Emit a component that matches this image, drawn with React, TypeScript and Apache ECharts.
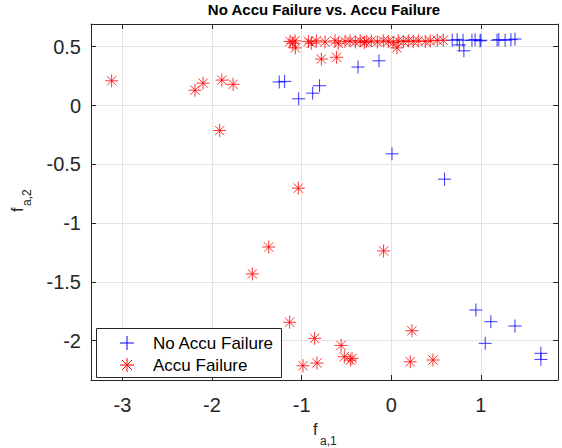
import React, { useEffect, useRef } from "react";
import * as echarts from "echarts";

const titleText = "No Accu Failure vs. Accu Failure";
const seriesNames = ["No Accu Failure", "Accu Failure"];
const xTicks = [-3, -2, -1, 0, 1];
const yTicks = [-2, -1.5, -1, -0.5, 0, 0.5];

const noFailX = [
  0.68, 0.735, 0.76, 0.8, 0.81, 0.9, 0.935, 0.99, 1.0, 1.18, 1.2, 1.27, 1.335, 1.38,
  -1.25, -1.19, -1.033, -0.877, -0.8, -0.371, -0.137, 0.008, 0.594,
  0.944, 1.111, 1.38, 1.048, 1.669, 1.669,
];
const noFailY = [
  0.555, 0.56, 0.515, 0.555, 0.465, 0.555, 0.56, 0.55, 0.555, 0.555, 0.56, 0.555, 0.56, 0.565,
  0.2, 0.205, 0.057, 0.105, 0.168, 0.327, 0.38, -0.411, -0.626,
  -1.739, -1.838, -1.875, -2.022, -2.107, -2.159,
];

const failX = [
  -1.13, -1.1, -1.074, -1.07, -0.925, -0.892, -0.836, -0.78, -0.739, -0.628, -0.61, -0.591,
  -0.516, -0.46, -0.401, -0.346, -0.3, -0.279, -0.223, -0.156, -0.089, -0.033, 0.022, 0.063,
  0.078, 0.134, 0.19, 0.245, 0.301, 0.379, 0.435, 0.513, 0.58,
  -3.12, -2.19, -2.1, -1.89, -1.765, -1.914, -1.037, -1.368, -1.55, -0.086,
  -1.134, -0.855, -0.985, -0.829, -0.56, -0.524, -0.457, -0.438, 0.23, 0.212, 0.465,
];
const failY = [
  0.545, 0.53, 0.55, 0.49, 0.545, 0.53, 0.55, 0.395, 0.54, 0.55, 0.41, 0.53,
  0.545, 0.55, 0.54, 0.55, 0.535, 0.545, 0.55, 0.54, 0.55, 0.545, 0.535, 0.49,
  0.55, 0.545, 0.55, 0.545, 0.55, 0.545, 0.55, 0.555, 0.555,
  0.21, 0.13, 0.19, 0.216, 0.18, -0.213, -0.703, -1.203, -1.432, -1.237,
  -1.843, -1.98, -2.213, -2.19, -2.04, -2.136, -2.165, -2.15, -1.915, -2.179, -2.164,
];

const FONT = "Liberation Sans, Arial, Helvetica, sans-serif";
const AXIS_COLOR = "#262626";
const GRID_COLOR = "#e3e3e3";
const BLUE = "#0000ff";
const RED = "#ff0000";
const PLUS = "path://M5,0L5,10M0,5L10,5";
const STAR = "path://M5,0L5,10M0,5L10,5M1.4,1.4L8.6,8.6M8.6,1.4L1.4,8.6";
const TICK_FS = 20;
const LEGEND_FS = 17;

const zip = (xs: number[], ys: number[]) => xs.map((x, i) => [x, ys[i]]);

export default function App() {
  const ref = useRef<HTMLDivElement>(null);
  useEffect(() => {
    if (!ref.current) return;
    const chart = echarts.init(ref.current, undefined, { renderer: "svg" });
    const axisCommon = {
      type: "value" as const,
      axisLine: { show: true, onZero: false, lineStyle: { color: AXIS_COLOR, width: 1 } },
    };
    const lx = 127;
    const ly1 = 343;
    const ly2 = 365;
    const h = 7;
    const d = 5;
    chart.setOption({
      animation: false,
      backgroundColor: "#ffffff",
      textStyle: { fontFamily: FONT },
      title: {
        text: titleText,
        left: 324,
        top: 2,
        padding: 0,
        textAlign: "center",
        textStyle: { fontSize: 15, fontWeight: "bold", color: "#000", fontFamily: FONT },
      },
      grid: { left: 91, top: 24, right: 4, bottom: 68, containLabel: false },
      xAxis: [
        {
          ...axisCommon,
          position: "bottom",
          min: -3.35,
          max: 1.86,
          axisTick: { show: true, inside: true, length: 5, customValues: xTicks, lineStyle: { color: AXIS_COLOR } },
          axisLabel: { show: true, customValues: xTicks, fontSize: TICK_FS, color: AXIS_COLOR, margin: 15, fontFamily: FONT },
          splitLine: { show: true, lineStyle: { color: GRID_COLOR, width: 1 } },
        },
        {
          ...axisCommon,
          position: "top",
          min: -3.35,
          max: 1.86,
          axisTick: { show: true, inside: true, length: 5, customValues: xTicks, lineStyle: { color: AXIS_COLOR } },
          axisLabel: { show: false },
          splitLine: { show: false },
        },
      ],
      yAxis: [
        {
          ...axisCommon,
          position: "left",
          min: -2.334,
          max: 0.693,
          axisTick: { show: true, inside: true, length: 5, customValues: yTicks, lineStyle: { color: AXIS_COLOR } },
          axisLabel: { show: true, customValues: yTicks, fontSize: TICK_FS, color: AXIS_COLOR, margin: 10, fontFamily: FONT },
          splitLine: { show: true, lineStyle: { color: GRID_COLOR, width: 1 } },
        },
        {
          ...axisCommon,
          position: "right",
          min: -2.334,
          max: 0.693,
          axisTick: { show: true, inside: true, length: 5, customValues: yTicks, lineStyle: { color: AXIS_COLOR } },
          axisLabel: { show: false },
          splitLine: { show: false },
        },
      ],
      series: [
        {
          name: seriesNames[0],
          type: "scatter",
          data: zip(noFailX, noFailY),
          symbol: PLUS,
          symbolSize: 13,
          itemStyle: { color: "none", borderColor: BLUE, borderWidth: 1 },
          z: 2,
        },
        {
          name: seriesNames[1],
          type: "scatter",
          data: zip(failX, failY),
          symbol: STAR,
          symbolSize: 13,
          itemStyle: { color: "none", borderColor: RED, borderWidth: 1 },
          z: 3,
        },
      ],
      graphic: [
        {
          type: "rect",
          z: 100,
          shape: { x: 96.5, y: 328.5, width: 185, height: 49 },
          style: { fill: "#ffffff", stroke: AXIS_COLOR, lineWidth: 1 },
        },
        { type: "line", z: 101, shape: { x1: lx - h, y1: ly1, x2: lx + h, y2: ly1 }, style: { stroke: BLUE, lineWidth: 1 } },
        { type: "line", z: 101, shape: { x1: lx, y1: ly1 - h, x2: lx, y2: ly1 + h }, style: { stroke: BLUE, lineWidth: 1 } },
        { type: "line", z: 101, shape: { x1: lx - h, y1: ly2, x2: lx + h, y2: ly2 }, style: { stroke: RED, lineWidth: 1 } },
        { type: "line", z: 101, shape: { x1: lx, y1: ly2 - h, x2: lx, y2: ly2 + h }, style: { stroke: RED, lineWidth: 1 } },
        { type: "line", z: 101, shape: { x1: lx - d, y1: ly2 - d, x2: lx + d, y2: ly2 + d }, style: { stroke: RED, lineWidth: 1 } },
        { type: "line", z: 101, shape: { x1: lx + d, y1: ly2 - d, x2: lx - d, y2: ly2 + d }, style: { stroke: RED, lineWidth: 1 } },
        {
          type: "text", z: 101, x: 153, y: ly1,
          style: { text: seriesNames[0], fill: "#000", font: `${LEGEND_FS}px ${FONT}`, verticalAlign: "middle" },
        },
        {
          type: "text", z: 101, x: 153, y: ly2,
          style: { text: seriesNames[1], fill: "#000", font: `${LEGEND_FS}px ${FONT}`, verticalAlign: "middle" },
        },
        {
          type: "text", x: 313, y: 429,
          style: { text: "f", fill: AXIS_COLOR, font: `16.5px ${FONT}`, verticalAlign: "middle" },
        },
        {
          type: "text", x: 320, y: 440.5,
          style: { text: "a,1", fill: AXIS_COLOR, font: `12px ${FONT}`, verticalAlign: "middle" },
        },
        {
          type: "group",
          x: 23,
          y: 212,
          rotation: Math.PI / 2,
          children: [
            {
              type: "text", x: 0, y: -5.8,
              style: { text: "f", fill: AXIS_COLOR, font: `16.5px ${FONT}`, verticalAlign: "middle" },
            },
            {
              type: "text", x: 6, y: 4,
              style: { text: "a,2", fill: AXIS_COLOR, font: `12px ${FONT}`, verticalAlign: "middle" },
            },
          ],
        },
      ],
    });
    return () => chart.dispose();
  }, []);
  return (
    <div
      ref={ref}
      style={{ position: "absolute", left: 0, top: 0, width: 562, height: 448, background: "#fff" }}
    />
  );
}
